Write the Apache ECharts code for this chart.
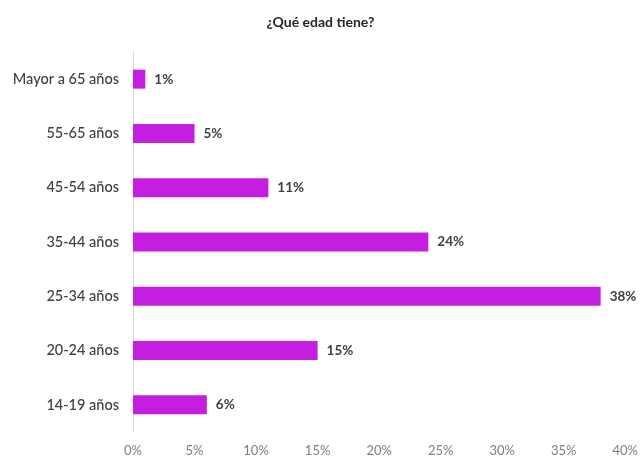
<!DOCTYPE html>
<html>
<head>
<meta charset="utf-8">
<script src="https://cdn.jsdelivr.net/npm/echarts@6/dist/echarts.min.js"></script>
<style>
  html, body { margin: 0; padding: 0; background: #fff; }
  #chart { width: 641px; height: 459px; }
</style>
</head>
<body>
<div id="chart"></div>
<script>
// categories bottom -> top (category axis starts at bottom)
var categories = ['14-19 años', '20-24 años', '25-34 años', '35-44 años', '45-54 años', '55-65 años', 'Mayor a 65 años'];
var values = [6, 15, 38, 24, 11, 5, 1];
var xTicks = [0, 5, 10, 15, 20, 25, 30, 35, 40];

var myChart = echarts.init(document.getElementById('chart'));
var font = 'Lato, "Open Sans", sans-serif';

var option = {
  animation: false,
  title: {
    text: '¿Qué edad tiene?',
    left: 'center',
    top: 10,
    textStyle: {
      fontFamily: font,
      fontSize: 14,
      fontWeight: 'bold',
      color: '#262626'
    }
  },
  grid: {
    left: 133,
    right: 13,
    top: 52,
    bottom: 27,
    containLabel: false
  },
  xAxis: {
    type: 'value',
    min: xTicks[0],
    max: xTicks[xTicks.length - 1],
    interval: 5,
    axisLine: { show: false },
    axisTick: { show: false },
    splitLine: { show: false },
    axisLabel: {
      margin: 12,
      color: '#7f7f7f',
      fontFamily: font,
      fontSize: 13,
      formatter: function (v) { return v + '%'; }
    }
  },
  yAxis: {
    type: 'category',
    data: categories,
    axisLine: { show: true, lineStyle: { color: '#d9d9d9', width: 1 } },
    axisTick: { show: false },
    axisLabel: {
      margin: 14,
      color: '#404040',
      fontFamily: font,
      fontSize: 14.5,
      fontWeight: 500
    }
  },
  series: [{
    type: 'bar',
    data: values,
    barWidth: 19,
    itemStyle: { color: '#c41fe0' },
    label: {
      show: true,
      position: 'right',
      distance: 9,
      color: '#404040',
      fontFamily: font,
      fontSize: 13.5,
      fontWeight: 'bold',
      formatter: function (p) { return p.value + '%'; }
    }
  }]
};

myChart.setOption(option);
</script>
</body>
</html>
